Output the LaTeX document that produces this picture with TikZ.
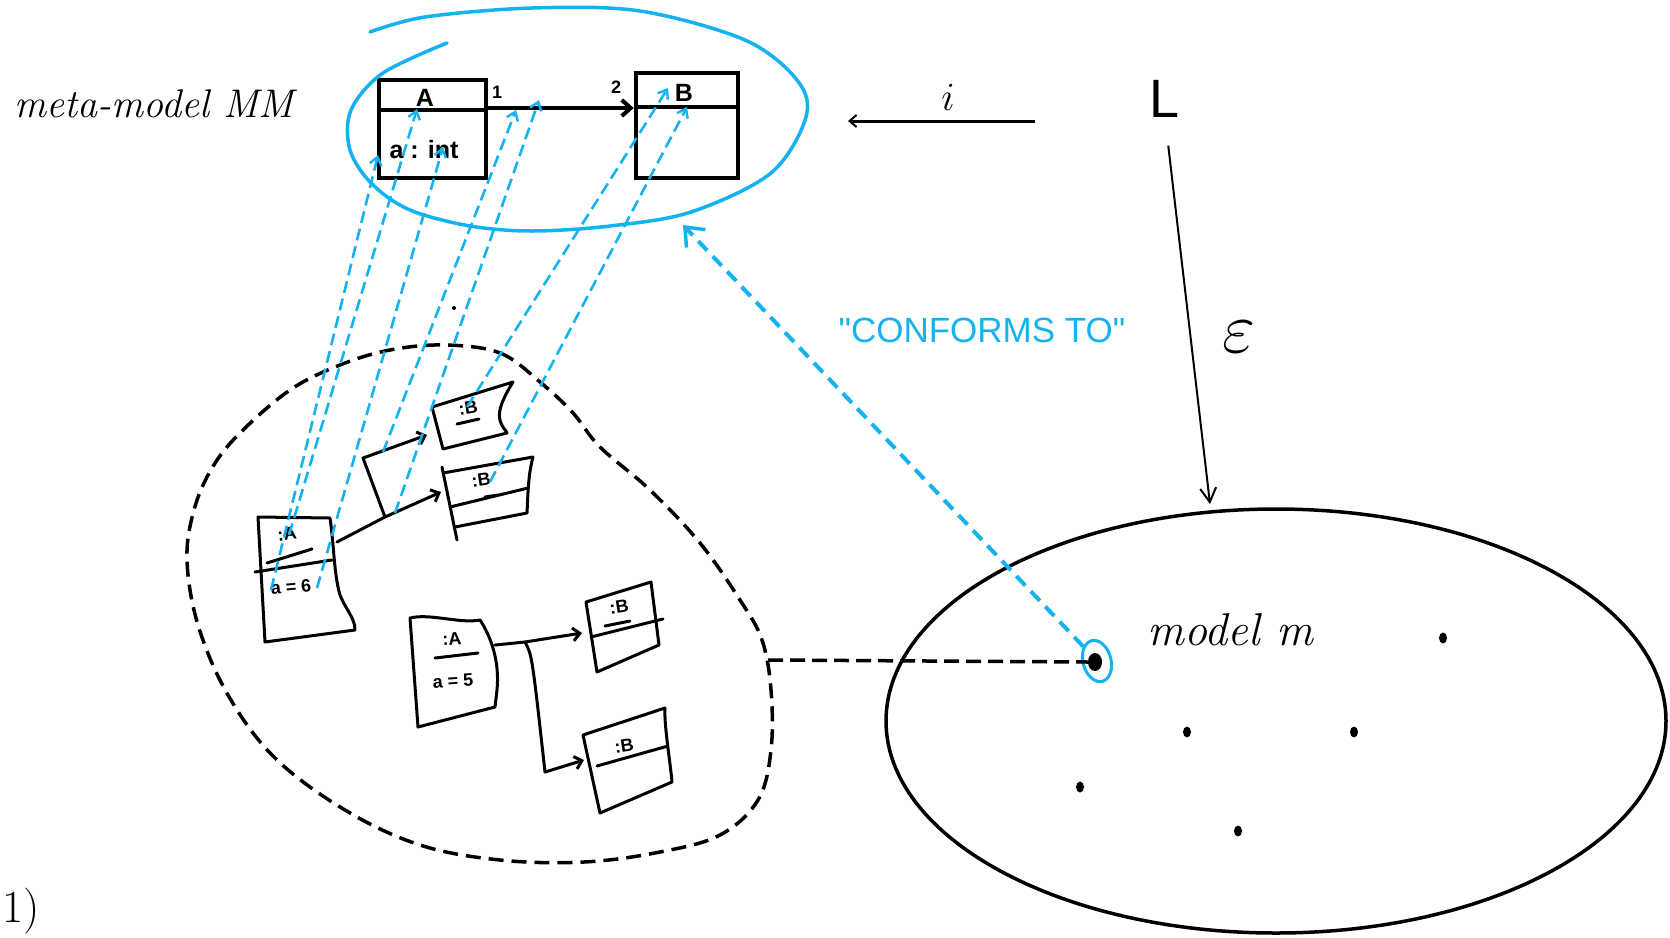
\documentclass[tikz,border=0pt]{standalone}
\usepackage{fix-cm}
\usepackage{fontspec}
\newfontfamily\handfont{Liberation Sans}
\usetikzlibrary{arrows.meta,shapes.geometric}
\definecolor{skyb}{RGB}{20,178,240}
\newcommand\myfs[1]{\fontsize{#1}{#1}\selectfont}
\begin{document}
\begin{tikzpicture}[x=1pt,y=-1pt,
  mmbox/.style={draw, line width=4.5pt, inner sep=0pt},
  mmtext/.style={font=\handfont\bfseries\myfs{25}, inner sep=0pt},
  itext/.style={font=\handfont\bfseries\myfs{18}, inner sep=0pt},
  inst/.style={line width=3pt, line join=round, line cap=round},
  ilink/.style={line width=3pt, line join=round, line cap=round, -{Straight Barb[length=7pt,width=13pt,line width=3pt]}},
  blink/.style={draw=skyb, line width=2.6pt, dash pattern=on 12pt off 6pt, -{Straight Barb[length=8pt,width=12pt,line width=2.4pt]}},
  dot/.style={ellipse, fill=black, inner sep=0pt, minimum width=8pt, minimum height=11pt},
]
\useasboundingbox (0,0) rectangle (1670,937);

% ---------- labels ----------
\node[font=\itshape\myfs{40}, anchor=base west, inner sep=0pt] (mmlabel) at (14,117) {meta-model MM};
\node[font=\itshape\myfs{46}, anchor=base west, inner sep=0pt] (mlabel) at (1147,645) {model m};
\node[font=\handfont\myfs{35}, text=skyb, inner sep=0pt] (conf) at (982,330) {"CONFORMS TO"};
\node[font=\handfont\myfs{54}, inner sep=0pt] (Lang) at (1165,99) {L};
\node[font=\myfs{40}, inner sep=0pt] (ilabel) at (948,97) {$i$};
\node[font=\myfs{72}, inner sep=0pt] (eps) at (1239,337) {$\varepsilon$};
\node[font=\myfs{46}, anchor=base west, inner sep=0pt] (num) at (2,922) {1)};

% ---------- L arrows ----------
\coordinate (Ltip) at (1210,504);
\draw[line width=2pt, shorten <=28pt, -{Straight Barb[length=14pt,width=16pt,line width=2pt]}] (Lang.south) -- (Ltip);
\coordinate (iR) at (1035,121);
\coordinate (iL) at (848,121);
\draw[line width=3pt, -{Straight Barb[length=7pt,width=12pt,line width=2pt]}] (iR) -- (iL);

% ---------- meta-model ----------
\node[mmbox, minimum width=107pt, minimum height=98pt] (A) at (432.5,129) {};
\draw[line width=4.5pt] ([yshift=-32pt]A.north west) -- ([yshift=-32pt]A.north east);
\node[mmbox, minimum width=102pt, minimum height=105pt] (B) at (687,125.5) {};
\draw[line width=4.5pt] ([yshift=-36pt]B.north west) -- ([yshift=-36pt]B.north east);
\node[mmtext] (Alab) at (425,98) {A};
\node[mmtext] (Aattr) at (424,150) {a : int};
\node[mmtext] (Blab) at (684,93) {B};
\node[font=\handfont\bfseries\myfs{18}, inner sep=0pt] (mul1) at (497,92) {1};
\node[font=\handfont\bfseries\myfs{18}, inner sep=0pt] (mul2) at (616,87) {2};
\draw[line width=4.5pt, -{Straight Barb[length=9pt,width=16pt,line width=4pt]}] ([yshift=21pt]A.east) -- ([yshift=17.5pt]B.west);

\draw[skyb, line width=3.5pt, line cap=round] plot[smooth, tension=0.55] coordinates {(447,43) (383,73) (351,110) (350,150) (372,184) (410,210) (470,226) (532,231) (610,226) (691,212) (771,173) (806,117) (797,80) (745,40) (640,11) (532,8) (425,17) (370,32)};

% ---------- model blob ----------
\draw[line width=3.5pt, dash pattern=on 15pt off 8pt] plot[smooth cycle, tension=0.6] coordinates {(445,345) (500,353) (540,382) (573,413) (600,447) (650,490) (700,543) (740,600) (762,640) (771,690) (771,750) (758,800) (720,835) (660,852) (584,862) (500,860) (420,845) (345,810) (275,758) (228,695) (198,625) (187,560) (194,510) (212,468) (240,433) (290,390) (340,365) (390,350)};

% box 1 (:A, a = 6)
\draw[inst] (258,517) -- (330,518) .. controls (334,545) and (334,575) .. (340,595) .. controls (346,610) and (355,618) .. (355,630) -- (265,642) -- cycle;
\draw[inst] (255,572) -- (332,560);
\draw[inst] (267,563) -- (312,549);
\node[itext, rotate=8] (o1A) at (287,534) {:A};
\node[itext, rotate=5] (o1a) at (291,587) {a = 6};

% box 2 (:B)
\draw[inst] (432,407) -- (513,382) .. controls (505,395) and (497,410) .. (500,420) .. controls (502,428) and (506,430) .. (507,433) -- (443,449) -- cycle;
\node[itext, rotate=9] (o2B) at (468,408) {:B};
\draw[inst] (457,424) -- (479,419);

% box 3 (:B)
\draw[inst] (443,473) -- (533,457) .. controls (528,475) and (528,495) .. (527,513) -- (455,527);
\draw[inst] (442,467) -- (457,540);
\draw[inst] (450,507) -- (528,488);
\node[itext, rotate=9] (o3B) at (481,480) {:B};
\draw[inst] (485,497) -- (498,495);

% box 4 (:A, a = 5)
\draw[inst] (410,618) .. controls (430,613) and (460,624) .. (480,620) .. controls (490,635) and (500,660) .. (497,690) -- (495,707) -- (418,727) -- cycle;
\draw[inst] (435,658) -- (478,653);
\node[itext, rotate=4] (o4A) at (452,639) {:A};
\node[itext, rotate=4] (o4a) at (453,681) {a = 5};

% box 5 (:B)
\draw[inst] (586,602) -- (651,582) -- (659,645) -- (597,672) -- cycle;
\draw[inst] (591,637) -- (663,619);
\node[itext, rotate=9] (o5B) at (619,607) {:B};
\draw[inst] (605,626) -- (630,621);

% box 6 (:B)
\draw[inst] (583,735) -- (665,708) .. controls (664,725) and (670,760) .. (672,782) -- (600,813) -- cycle;
\draw[inst] (597,766) -- (668,746);
\node[itext, rotate=9] (o6B) at (624,746) {:B};

% instance links
\coordinate (b1e) at (337,542);
\coordinate (j1) at (385,517);
\coordinate (k1) at (363,458);
\coordinate (b3w) at (441,492);
\coordinate (b2w) at (427,435);
\draw[ilink] (b1e) -- (j1) -- (b3w);
\draw[ilink] (j1) -- (k1) -- (b2w);
\coordinate (b4e) at (495,645);
\coordinate (j2) at (525,642);
\coordinate (k2) at (545,772);
\coordinate (b5w) at (582,633);
\coordinate (b6w) at (584,760);
\draw[ilink] (b4e) -- (j2) -- (b5w);
\draw[ilink] (j2) .. controls (532,655) .. (k2) -- (b6w);

\node[circle, fill=black, inner sep=0pt, minimum size=4pt] (stray) at (454,308) {};

% ---------- blue instance-of links ----------
\coordinate (o1) at (271,590); \coordinate (t1) at (378,155);
\coordinate (o2) at (289,535); \coordinate (t2) at (417,109);
\coordinate (o3) at (317,588); \coordinate (t3) at (443,147);
\coordinate (o4) at (383,452); \coordinate (t4) at (516,110);
\coordinate (o5) at (395,513); \coordinate (t5) at (539,100);
\coordinate (o6) at (467,407); \coordinate (t6) at (668,88);
\coordinate (o7) at (490,482); \coordinate (t7) at (687,107);
\foreach \i in {1,...,7} {\draw[blink] (o\i) -- (t\i);}

% ---------- model space ----------
\node[draw, ellipse, line width=3.5pt, minimum width=780pt, minimum height=424pt, inner sep=0pt] (space) at (1276,721) {};
\node[ellipse, fill=black, minimum width=14pt, minimum height=18pt, inner sep=0pt] (m0) at (1095,662) {};
\node[draw=skyb, ellipse, line width=3pt, minimum width=28pt, minimum height=42pt, inner sep=0pt, rotate=15] (ring) at (1097,661) {};
\node[dot] (d1) at (1443,638) {};
\node[dot] (d2) at (1187,732) {};
\node[dot] (d3) at (1354,732) {};
\node[dot] (d4) at (1080,787) {};
\node[dot] (d5) at (1238,831) {};

\coordinate (blobR) at (768,660);
\draw[line width=3.5pt, dash pattern=on 15pt off 7pt] (blobR) -- (m0.west);

\coordinate (cfTip) at (683,225);
\draw[skyb, line width=4pt, dash pattern=on 13pt off 8pt, -{Straight Barb[length=16pt,width=26pt,line width=3.5pt]}] (ring) -- (cfTip);
\end{tikzpicture}
\end{document}
